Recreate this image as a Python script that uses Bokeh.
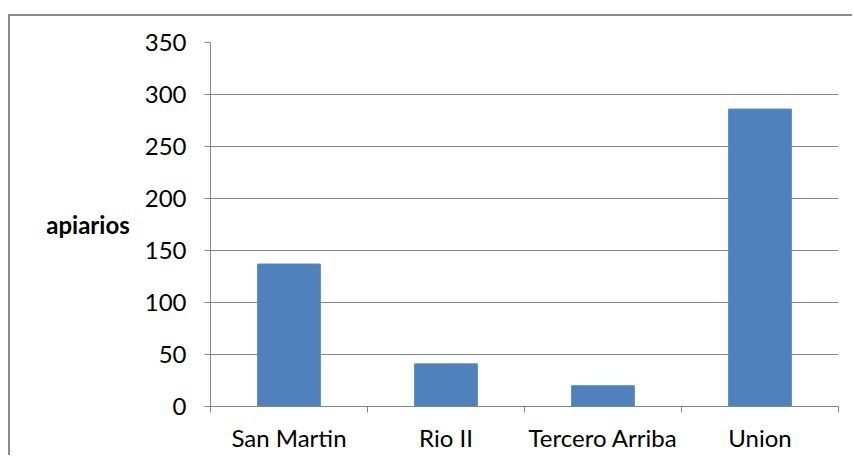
import numpy as np
from bokeh.plotting import figure
from bokeh.models import Range1d, FixedTicker, LinearAxis
from bokeh.embed import file_html
from bokeh.resources import INLINE

categories = ["San Martin", "Rio II", "Tercero Arriba", "Union"]
apiarios = [137, 41, 20, 286]
y_ticks = [0, 50, 100, 150, 200, 250, 300, 350]

GRAY = "#868686"
FONT = "Lato"

xpos = [i + 0.5 for i in range(len(categories))]

p = figure(width=844, height=441, output_backend="svg", toolbar_location=None,
           x_range=Range1d(0, len(categories)), y_range=Range1d(0, 350),
           x_axis_location=None, y_axis_location=None,
           min_border_left=200, min_border_top=26, min_border_right=16, min_border_bottom=51)
p.outline_line_color = None
p.styles = {"border-left": "2px solid #8a8a8a", "border-top": "2px solid #8a8a8a",
            "margin-top": "14px", "margin-left": "8px"}

p.vbar(x=xpos, top=apiarios, width=0.40, fill_color="#4F81BD", line_color="#5b8cc6", line_width=1)

# y axis
yax = LinearAxis(ticker=FixedTicker(ticks=y_ticks, minor_ticks=[]))
yax.axis_line_color = GRAY
yax.major_tick_line_color = GRAY
yax.major_tick_out = 6
yax.major_tick_in = 0
yax.minor_tick_line_color = None
yax.major_label_text_font = FONT
yax.major_label_text_font_size = "24px"
yax.major_label_text_color = "black"
yax.major_label_standoff = 18
yax.axis_label = "apiarios"
yax.axis_label_text_font = FONT
yax.axis_label_text_font_style = "bold"
yax.axis_label_text_font_size = "24px"
yax.axis_label_text_color = "black"
yax.axis_label_orientation = "horizontal"
yax.axis_label_standoff = 12
p.add_layout(yax, "left")

# x axis
xax = LinearAxis(ticker=FixedTicker(ticks=xpos, minor_ticks=list(range(len(categories) + 1))))
xax.major_label_overrides = {x: c for x, c in zip(xpos, categories)}
xax.axis_line_color = GRAY
xax.major_tick_line_color = None
xax.major_tick_out = 0
xax.major_tick_in = 0
xax.minor_tick_line_color = GRAY
xax.minor_tick_out = 6
xax.minor_tick_in = 0
xax.major_label_text_font = FONT
xax.major_label_text_font_size = "24px"
xax.major_label_text_color = "black"
xax.major_label_standoff = 10
p.add_layout(xax, "below")

p.xgrid.visible = False
p.ygrid.ticker = FixedTicker(ticks=y_ticks)
p.ygrid.grid_line_color = GRAY
p.ygrid.grid_line_width = 1

open("out.html", "w").write(file_html(p, INLINE))
